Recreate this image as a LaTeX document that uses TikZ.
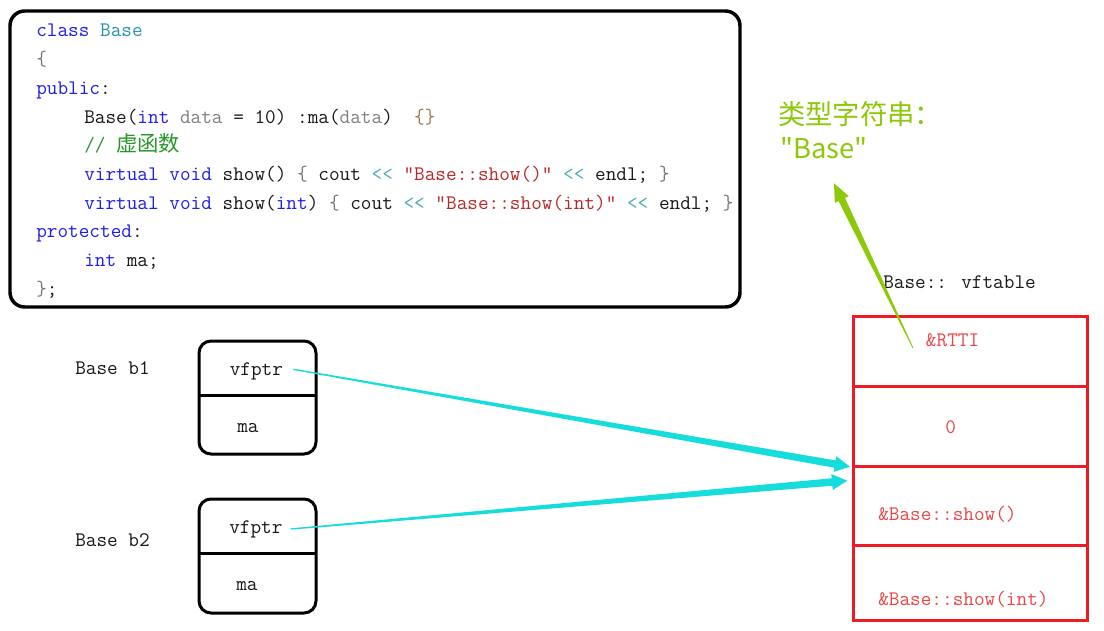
\documentclass[tikz,border=0pt]{standalone}
\usepackage{fontspec}
\newfontfamily\cjk{Noto Sans CJK SC}
\usetikzlibrary{calc}
\definecolor{kw}{RGB}{30,30,235}
\definecolor{cls}{RGB}{43,145,175}
\definecolor{brc}{RGB}{120,120,110}
\definecolor{brc2}{RGB}{160,120,80}
\definecolor{prm}{RGB}{128,128,128}
\definecolor{cmt}{RGB}{40,150,40}
\definecolor{strc}{RGB}{185,40,40}
\definecolor{opc}{RGB}{80,170,185}
\definecolor{plain}{RGB}{25,25,25}
\definecolor{vred}{RGB}{237,28,36}
\definecolor{vtxt}{RGB}{235,70,70}
\definecolor{cyanar}{RGB}{23,220,220}
\definecolor{grn}{RGB}{141,200,10}
\newcommand\codefnt{\fontsize{15.5}{18}\selectfont\ttfamily}
\newcommand\shl{<\kern0pt<}
\newcommand\taperarrow[7]{%
  \coordinate (ta-n) at ($(#2)!#6!(#1)$);
  \fill[#3] ($(#1)!#4!90:(#2)$) -- ($(ta-n)!#5!90:(#2)$) -- ($(ta-n)!#7!90:(#2)$)
    -- (#2) -- ($(ta-n)!#7!-90:(#2)$) -- ($(ta-n)!#5!-90:(#2)$) -- ($(#1)!#4!-90:(#2)$) -- cycle;}
\begin{document}
\begin{tikzpicture}[x=0.75pt,y=-0.75pt,
  code/.style={anchor=base west,inner sep=0pt,font=\codefnt,text=plain},
  codebox/.style={draw=black,line width=2.6pt,rounded corners=11pt,inner sep=0pt},
  objbox/.style={draw=black,line width=2.25pt,rounded corners=9pt,inner sep=0pt,minimum width=87.75pt},
  objline/.style={draw=black,line width=2.25pt},
  row/.style={draw=vred,line width=2.25pt,inner sep=0pt,minimum width=175.5pt},
  vt/.style={anchor=base west,inner sep=0pt,font=\codefnt,text=vtxt},
  lbl/.style={anchor=base west,inner sep=0pt,font=\codefnt,text=plain},
  gt/.style={anchor=base west,inner sep=0pt,text=grn,font=\cjk\fontsize{20.5}{24}\selectfont}]
\useasboundingbox (0,0) rectangle (1104,631);
\fill[white] (0,0) rectangle (1104,631);

% code box
\node[codebox,minimum width=547.5pt,minimum height=222pt] (codebox) at (375,159) {};
\node[code] (c1) at (36,37) {\textcolor{kw}{class} \textcolor{cls}{Base}};
\node[code] (c2) at (36,65.7) {\textcolor{brc}{\{}};
\node[code] (c3) at (36,94.4) {\textcolor{kw}{public}:};
\node[code] (c4) at (84,123.1) {Base(\textcolor{kw}{int} \textcolor{prm}{data} = 10) :ma(\textcolor{prm}{data})\ \ \textcolor{brc2}{\{\}}};
\node[code] (c5) at (84,151.8) {\textcolor{cmt}{// {\cjk\fontsize{16}{18}\selectfont 虚函数}}};
\node[code] (c6) at (84,180.5) {\textcolor{kw}{virtual} \textcolor{kw}{void} show() \textcolor{brc}{\{} cout \textcolor{opc}{\shl} \textcolor{strc}{"Base::show()"} \textcolor{opc}{\shl} endl; \textcolor{brc}{\}}};
\node[code] (c7) at (84,209.2) {\textcolor{kw}{virtual} \textcolor{kw}{void} show(\textcolor{kw}{int}) \textcolor{brc}{\{} cout \textcolor{opc}{\shl} \textcolor{strc}{"Base::show(int)"} \textcolor{opc}{\shl} endl; \textcolor{brc}{\}}};
\node[code] (c8) at (36,237.9) {\textcolor{kw}{protected}:};
\node[code] (c9) at (84,266.6) {\textcolor{kw}{int} ma;};
\node[code] (c10) at (36,295.3) {\textcolor{brc}{\}};};

% objects
\node[lbl] (l1) at (75,374) {Base b1};
\node[objbox,minimum height=84.75pt] (b1) at (257.5,397.5) {};
\draw[objline] (199,395.5) -- (316,395.5);
\node[lbl] (v1) at (229.5,375) {vfptr};
\node[lbl] (m1) at (237,432) {ma};

\node[lbl] (l2) at (75,546) {Base b2};
\node[objbox,minimum height=85.5pt] (b2) at (257.5,556) {};
\draw[objline] (199,553.5) -- (316,553.5);
\node[lbl] (v2) at (229,533) {vfptr};
\node[lbl] (m2) at (236,590.5) {ma};

% vftable
\node[lbl] (vtitle) at (883,288.3) {Base:: vftable};
\node[row,minimum height=52.5pt] (r1) at (970,351) {};
\node[row,minimum height=60pt] (r2) at (970,426) {};
\node[row,minimum height=59.25pt] (r3) at (970,505.5) {};
\node[row,minimum height=56.25pt] (r4) at (970,582.5) {};
\node[vt] (t1) at (925.7,346.7) {\&RTTI};
\node[vt] (t2) at (945,433) {0};
\node[vt] (t3) at (878,520) {\&Base::show()};
\node[vt] (t4) at (878,605) {\&Base::show(int)};

% green label
\node[gt] (g1) at (778,125) {类型字符串：};
\node[gt] (g2) at (780,159) {"Base"};

% arrows
\coordinate (s1) at (293.3,369.3);
\coordinate (e1) at (850,466.7);
\coordinate (s2) at (290.7,529);
\coordinate (e2) at (847.3,480.7);
\taperarrow{s1}{e1}{cyanar}{0.5pt}{2.8pt}{11.5pt}{6pt}
\taperarrow{s2}{e2}{cyanar}{0.5pt}{2.8pt}{11.5pt}{6pt}
\coordinate (gs) at (913,348);
\coordinate (ge) at (834,183.3);
\taperarrow{gs}{ge}{grn}{0.3pt}{2.7pt}{13.5pt}{5.8pt}
\end{tikzpicture}
\end{document}
